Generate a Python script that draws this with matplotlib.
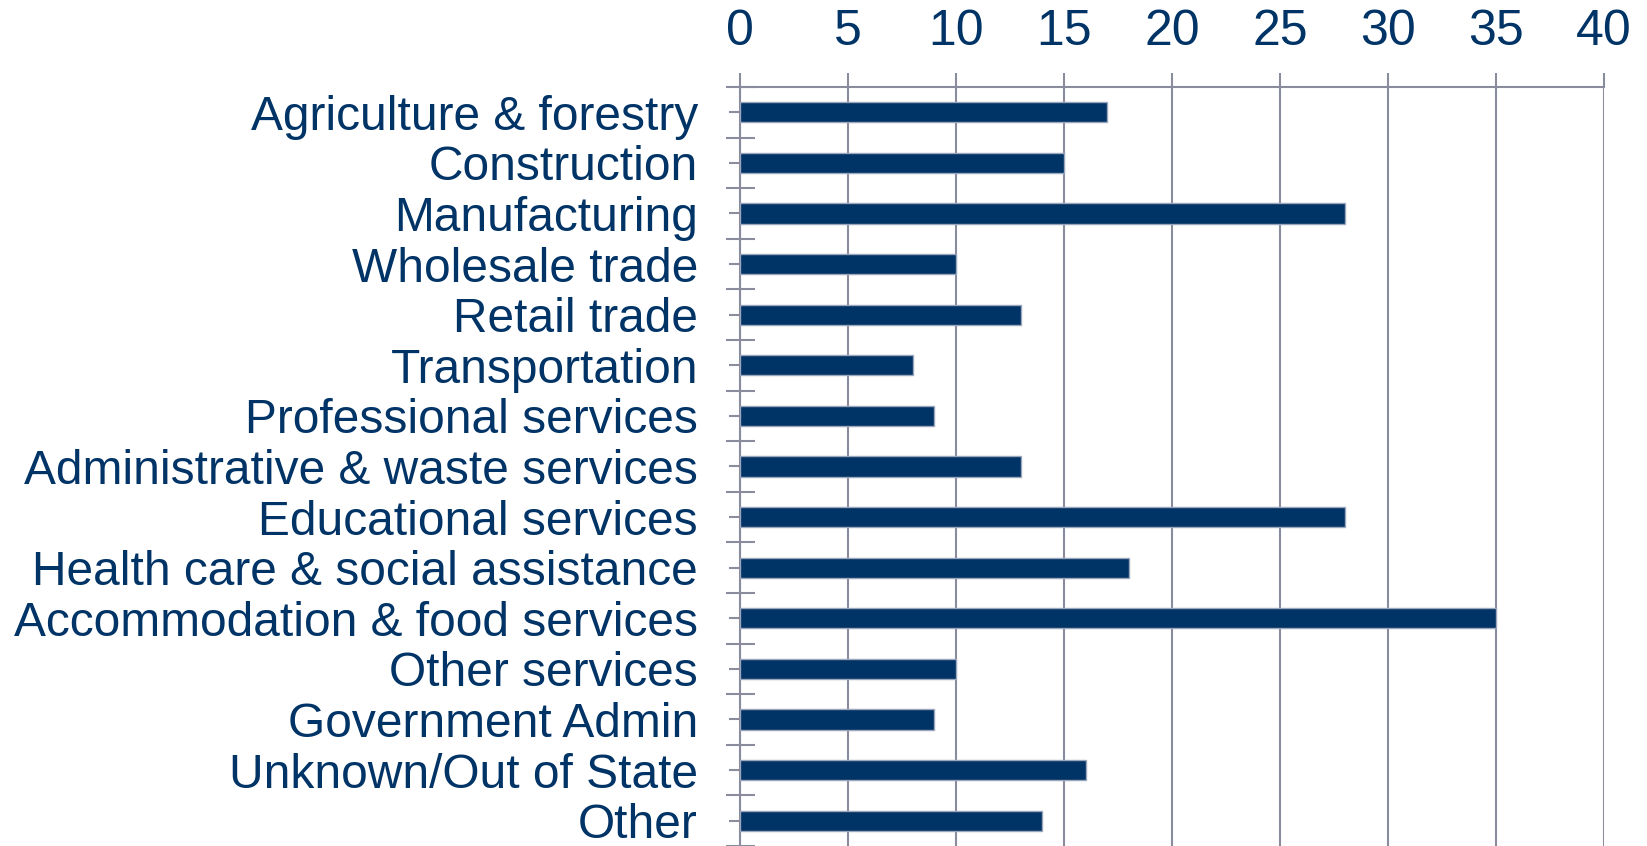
import matplotlib
matplotlib.use("Agg")
import matplotlib.pyplot as plt
import numpy as np

categories = [
    "Agriculture & forestry", "Construction", "Manufacturing", "Wholesale trade",
    "Retail trade", "Transportation", "Professional services",
    "Administrative & waste services", "Educational services",
    "Health care & social assistance", "Accommodation & food services",
    "Other services", "Government Admin", "Unknown/Out of State", "Other",
]
values = [17, 15, 28, 10, 13, 8, 9, 13, 28, 18, 35, 10, 9, 16, 14]
x_ticks = [0, 5, 10, 15, 20, 25, 30, 35, 40]

NAVY = "#003366"
GRID = "#8a8c9e"
PX = 72 / 100  # points per pixel

plt.rcParams['font.family'] = ['Liberation Sans', 'DejaVu Sans']

fig = plt.figure(figsize=(16.47, 8.46), dpi=100)
ax = fig.add_axes([740 / 1647, 0.0, 864 / 1647, 1 - 87 / 846])

n = len(categories)
y = np.arange(n)
ax.barh(y, values, height=0.4, color=NAVY, edgecolor="#9aa6bc", linewidth=1.0, zorder=3)

ax.set_ylim(n - 0.5, -0.5)
ax.set_xlim(0, 40)
ax.set_xticks(x_ticks)
ax.set_xticklabels([str(t) for t in x_ticks])
ax.xaxis.tick_top()
ax.grid(axis="x", color=GRID, linewidth=1.5, zorder=0)

ax.set_yticks(y)
ax.set_yticklabels(categories)
ax.set_yticks(np.arange(n + 1) - 0.5, minor=True)

ax.tick_params(axis="x", which="major", top=True, bottom=False, length=14 * PX,
               width=1.5, color=GRID, labelsize=36, labelcolor=NAVY, pad=18 * PX)
ax.tick_params(axis="y", which="major", left=True, length=11 * PX, width=1.5,
               color=GRID, labelsize=34.5, labelcolor=NAVY, pad=31 * PX)
ax.tick_params(axis="y", which="minor", left=True, direction="inout",
               length=29 * PX, width=1.5, color=GRID)

for side in ["right", "bottom"]:
    ax.spines[side].set_visible(False)
for side in ["top", "left"]:
    ax.spines[side].set_color(GRID)
    ax.spines[side].set_linewidth(1.5)

fig.savefig("out.png", dpi=100)
